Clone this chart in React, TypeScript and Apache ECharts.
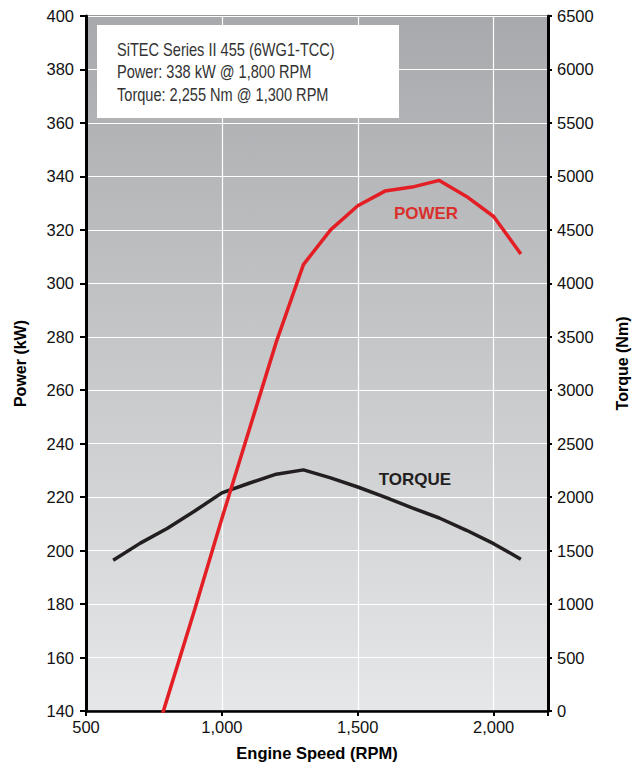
import React, { useEffect, useRef } from "react";
import * as echarts from "echarts";

const rpm = [600, 700, 800, 900, 1000, 1100, 1200, 1300, 1400, 1500, 1600, 1700, 1800, 1900, 2000, 2100];
const powerRpm = [700, 800, 900, 1000, 1100, 1200, 1300, 1400, 1500, 1600, 1700, 1800, 1900, 2000, 2100];
const powerKw = [112, 145, 178, 212, 245, 278, 307, 320, 329, 334.5, 336, 338.5, 332.5, 325, 311];
const torqueNm = [1410, 1570, 1710, 1870, 2040, 2130, 2215, 2255, 2180, 2095, 2000, 1900, 1805, 1690, 1565, 1420];

const powerTicks = { min: 140, max: 400, interval: 20 };
const torqueTicks = { min: 0, max: 6500, interval: 500 };
const rpmTicks = { min: 500, max: 2200, interval: 500 };

const infoLines = [
  "SiTEC Series II 455 (6WG1-TCC)",
  "Power: 338 kW @ 1,800 RPM",
  "Torque: 2,255 Nm @ 1,300 RPM",
];

const FONT = "'Liberation Sans', Arial, sans-serif";

export default function App() {
  const ref = useRef<HTMLDivElement>(null);
  useEffect(() => {
    if (!ref.current) return;
    const chart = echarts.init(ref.current, undefined, { renderer: "svg" });
    const fmt = (v: number) => v.toLocaleString("en-US");
    chart.setOption({
      animation: false,
      grid: {
        left: 86,
        right: 96,
        top: 16,
        bottom: 53,
        outerBoundsMode: "none",
        containLabel: false,
        show: true,
        borderWidth: 1,
        borderColor: "#333",
        backgroundColor: new echarts.graphic.LinearGradient(0, 0, 0, 1, [
          { offset: 0, color: "#a7a9ac" },
          { offset: 1, color: "#e6e7e8" },
        ]),
      },
      xAxis: {
        type: "value",
        min: rpmTicks.min,
        max: rpmTicks.max,
        interval: rpmTicks.interval,
        name: "Engine Speed (RPM)",
        nameLocation: "middle",
        nameGap: 33,
        nameTextStyle: { fontFamily: FONT, fontWeight: "bold", fontSize: 16.5, color: "#000" },
        axisLine: { lineStyle: { color: "#000", width: 2.5 } },
        axisTick: { show: true, length: 5, lineStyle: { color: "#000", width: 2 } },
        axisLabel: {
          fontFamily: FONT,
          fontSize: 16.5,
          color: "#111",
          margin: 7,
          formatter: (v: number) => (v % 500 === 0 ? fmt(v) : ""),
        },
        splitLine: { show: true, lineStyle: { color: "#ffffff", width: 1.2 } },
      },
      yAxis: [
        {
          type: "value",
          min: powerTicks.min,
          max: powerTicks.max,
          interval: powerTicks.interval,
          name: "Power (kW)",
          nameLocation: "middle",
          nameRotate: 90,
          nameGap: 58,
          nameTextStyle: { fontFamily: FONT, fontWeight: "bold", fontSize: 16, color: "#000" },
          axisLine: { show: true, lineStyle: { color: "#000", width: 3 } },
          axisTick: { show: true, length: 6, lineStyle: { color: "#000", width: 2 } },
          axisLabel: { fontFamily: FONT, fontSize: 16.5, color: "#111", margin: 12, formatter: (v: number) => String(v) },
          splitLine: { show: true, lineStyle: { color: "#ffffff", width: 1.2 } },
        },
        {
          type: "value",
          position: "right",
          min: torqueTicks.min,
          max: torqueTicks.max,
          interval: torqueTicks.interval,
          name: "Torque (Nm)",
          nameLocation: "middle",
          nameRotate: 90,
          nameGap: 66,
          nameTextStyle: { fontFamily: FONT, fontWeight: "bold", fontSize: 16, color: "#000" },
          axisLine: { show: true, lineStyle: { color: "#000", width: 3 } },
          axisTick: { show: true, length: 4, lineStyle: { color: "#000", width: 2 } },
          axisLabel: { fontFamily: FONT, fontSize: 16.5, color: "#111", margin: 9, formatter: (v: number) => String(v) },
          splitLine: { show: false },
        },
      ],
      series: [
        {
          name: "Power",
          type: "line",
          yAxisIndex: 0,
          data: powerRpm.map((r, i) => [r, powerKw[i]]),
          showSymbol: false,
          clip: true,
          lineStyle: { color: "#e31e24", width: 3.5 },
          z: 3,
        },
        {
          name: "Torque",
          type: "line",
          yAxisIndex: 1,
          data: rpm.map((r, i) => [r, torqueNm[i]]),
          showSymbol: false,
          clip: true,
          lineStyle: { color: "#231f20", width: 3.5 },
          z: 2,
        },
      ],
      graphic: [
        {
          type: "rect",
          shape: { x: 97, y: 25, width: 302, height: 93 },
          style: { fill: "#ffffff" },
          z: 10,
        },
        ...infoLines.map((t, i) => ({
          type: "text",
          x: 117,
          y: 49 + i * 22.5,
          scaleX: 0.81,
          z: 11,
          style: {
            text: t,
            fontFamily: FONT,
            fontSize: 18,
            fill: "#333333",
            verticalAlign: "middle",
          },
        })),
        {
          type: "text",
          x: 426,
          y: 213,
          z: 11,
          style: {
            text: "POWER",
            fontFamily: FONT,
            fontWeight: "bold",
            fontSize: 17,
            fill: "#d9302c",
            align: "center",
            verticalAlign: "middle",
          },
        },
        {
          type: "text",
          x: 415,
          y: 479,
          z: 11,
          style: {
            text: "TORQUE",
            fontFamily: FONT,
            fontWeight: "bold",
            fontSize: 17,
            fill: "#231f20",
            align: "center",
            verticalAlign: "middle",
          },
        },
      ],
    });
    return () => chart.dispose();
  }, []);
  return (
    <div
      ref={ref}
      style={{ position: "absolute", left: 0, top: 0, width: 644, height: 764, background: "#fff" }}
    />
  );
}
